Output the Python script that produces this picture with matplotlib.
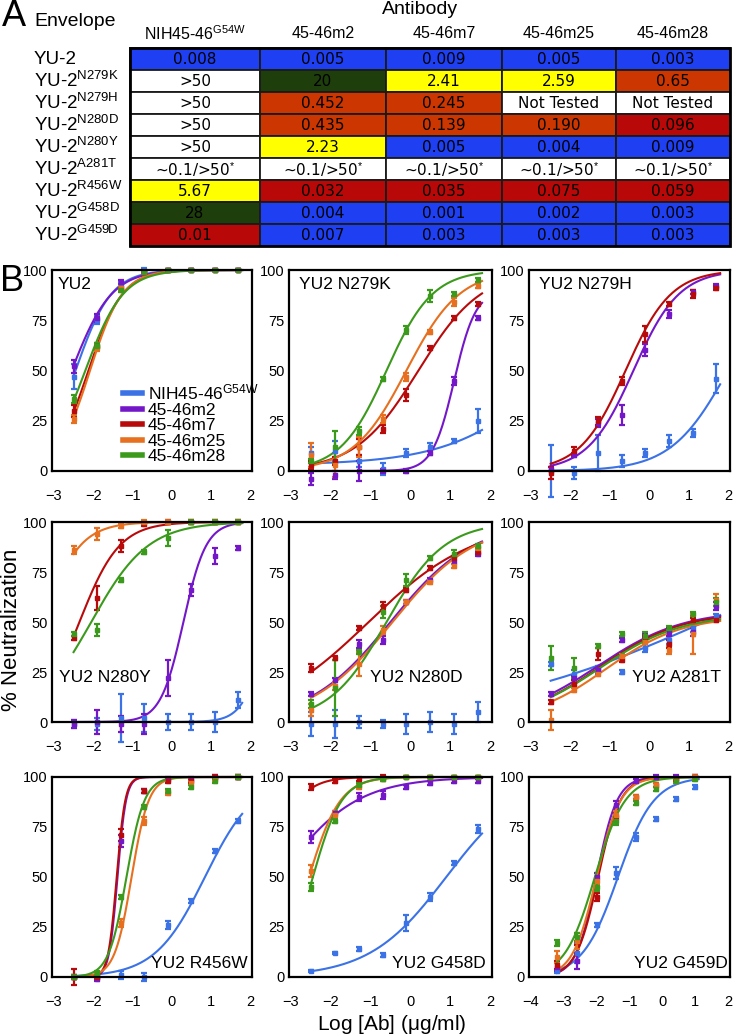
import matplotlib
matplotlib.use("Agg")
import matplotlib.pyplot as plt
from matplotlib.lines import Line2D
from matplotlib.patches import Rectangle
from matplotlib import font_manager
import numpy as np

# ---------------- data: table (panel A) ----------------
antibodies = ["NIH45-46$^{\\mathrm{G54W}}$", "45-46m2", "45-46m7", "45-46m25", "45-46m28"]
envelopes = ["YU-2", "YU-2$^{\\mathrm{N279K}}$", "YU-2$^{\\mathrm{N279H}}$",
             "YU-2$^{\\mathrm{N280D}}$", "YU-2$^{\\mathrm{N280Y}}$", "YU-2$^{\\mathrm{A281T}}$",
             "YU-2$^{\\mathrm{R456W}}$", "YU-2$^{\\mathrm{G458D}}$", "YU-2$^{\\mathrm{G459D}}$"]
star = "~0.1/>50$^{*}$"
ic50_text = [
    ["0.008", "0.005", "0.009", "0.005", "0.003"],
    [">50", "20", "2.41", "2.59", "0.65"],
    [">50", "0.452", "0.245", "Not Tested", "Not Tested"],
    [">50", "0.435", "0.139", "0.190", "0.096"],
    [">50", "2.23", "0.005", "0.004", "0.009"],
    [star, star, star, star, star],
    ["5.67", "0.032", "0.035", "0.075", "0.059"],
    ["28", "0.004", "0.001", "0.002", "0.003"],
    ["0.01", "0.007", "0.003", "0.003", "0.003"],
]
# numeric IC50 (µg/ml); None = not tested / ambiguous, 100 = >50
ic50_value = [
    [0.008, 0.005, 0.009, 0.005, 0.003],
    [100, 20, 2.41, 2.59, 0.65],
    [100, 0.452, 0.245, None, None],
    [100, 0.435, 0.139, 0.190, 0.096],
    [100, 2.23, 0.005, 0.004, 0.009],
    [None, None, None, None, None],
    [5.67, 0.032, 0.035, 0.075, 0.059],
    [28, 0.004, 0.001, 0.002, 0.003],
    [0.01, 0.007, 0.003, 0.003, 0.003],
]

# ---------------- data: neutralization curves (panel B) ----------------
legend_labels = ["NIH45-46$^{\\mathrm{G54W}}$", "45-46m2", "45-46m7", "45-46m25", "45-46m28"]
log_conc = [-2.5, -1.9, -1.3, -0.7, -0.1, 0.5, 1.1, 1.7]
log_conc_g459d = [-3.2, -2.6, -2.0, -1.4, -0.8, -0.2, 0.4, 1.0]

# rows: NIH45-46G54W, m2, m7, m25, m28 ; fit = (logIC50, hill, top, bottom)
yu2_mean = [[47, 75, 93, 100, 100, 100, 100, 100], [52, 76, 94, 99, 100, 100, 100, 100],
            [30, 62, 91, 99, 100, 100, 100, 100], [26, 61, 91, 99, 100, 100, 100, 100],
            [36, 62, 90, 99, 100, 100, 100, 100]]
yu2_err = [[6, 2, 1, 1, 0.5, 0.5, 0.5, 0.5], [3, 2, 1, 1, 0.5, 0.5, 0.5, 0.5],
           [3, 1.5, 1, 1, 0.5, 0.5, 0.5, 0.5], [2, 1.5, 1, 1, 0.5, 0.5, 0.5, 0.5],
           [2, 1.5, 1, 1, 0.5, 0.5, 0.5, 0.5]]
yu2_fit = [(-2.45, 0.95, 100, 0), (-2.55, 0.85, 100, 0), (-2.12, 1.0, 100, 0),
           (-2.08, 1.05, 100, 0), (-2.2, 0.9, 100, 0)]

n279k_mean = [[9, 10, 5, 1, 9, 12, 15, 25], [-4, -2, 0, 0, 0, 9, 45, 76],
              [3, 5, 12, 21, 38, 61, 76, 83], [8, 3, 12, 26, 47, 69, 84, 92],
              [5, 12, 20, 46, 70, 87, 88, 95]]
n279k_err = [[3, 5, 3, 3, 2, 2, 1, 6], [3, 2, 5, 1, 1, 1, 2, 1],
             [2, 2, 4, 2, 3, 1, 1, 1], [6, 6, 5, 2, 2, 1, 2, 1],
             [1, 8, 2, 1, 2, 3, 1, 1]]
n279k_fit = [(3.8, 0.33, 100, 3), (1.1, 1.6, 90, 0), (0.2, 0.55, 100, 0),
             (-0.1, 0.65, 100, 0), (-0.6, 0.75, 100, 0)]

n279h_mean = [[0, -1, 9, 5, 9, 15, 19, 46], [1, 8, 24, 28, 60, 78, 89, 92],
              [-1, 10, 25, 45, 68, 83, 88, 91], None, None]
n279h_err = [[13, 3, 9, 3, 2, 3, 2, 7], [1, 1, 2, 5, 3, 2, 1, 1],
             [3, 2, 2, 2, 4, 1, 2, 1], None, None]
n279h_fit = [(2.0, 0.6, 100, 0), (-0.4, 0.75, 100, 0), (-0.6, 0.75, 100, 0), None, None]

n280y_mean = [[-1, -1, 2, 2, 0, 0, 0, 11], [-1, 0, -1, -1, 22, 66, 83, 87],
              [42, 62, 88, 99, 100, 100, 100, 100], [86, 94, 98, 100, 100, 100, 100, 100],
              [44, 46, 71, 85, 92, 100, 100, 100]]
n280y_err = [[2, 3, 12, 7, 4, 4, 5, 4], [2, 6, 4, 5, 9, 3, 4, 1],
             [1, 6, 3, 1, 1, 1, 1, 1], [2, 3, 1, 1, 1, 1, 1, 1],
             [1, 3, 1, 1, 4, 1, 1, 1]]
n280y_fit = [(2.45, 1.5, 100, 0), (0.3, 1.5, 100, 0), (-2.35, 0.85, 100, 0),
             (-3.3, 0.9, 100, 0), (-2.05, 0.6, 100, 0)]

n280d_mean = [[-1, -1, 0, -1, -1, 0, -1, 5], [14, 21, 39, 41, 60, 71, 80, 84],
              [27, 32, 47, 58, 66, 77, 82, 85], [6, 18, 29, 46, 60, 70, 78, 87],
              [9, 17, 35, 55, 71, 82, 84, 88]]
n280d_err = [[6, 7, 3, 2, 5, 5, 5, 5], [1, 1, 2, 2, 1, 1, 1, 1],
             [2, 1, 1, 2, 1, 1, 1, 1], [3, 2, 6, 2, 1, 1, 1, 1],
             [2, 14, 1, 3, 3, 1, 2, 1]]
n280d_fit = [None, (-0.5, 0.42, 100, 0), (-1.05, 0.33, 100, 0),
             (-0.45, 0.42, 100, 0), (-0.6, 0.6, 100, 0)]

a281t_mean = [[29, 24, 26, 25, 37, 41, 47, 53], [14, 22, 26, 41, 43, 45, 45, 58],
              [10, 19, 34, 31, 42, 39, 51, 51], [1, 16, 24, 33, 40, 36, 44, 61],
              [32, 27, 38, 44, 43, 47, 54, 60]]
a281t_err = [[1, 2, 2, 1, 2, 2, 2, 1], [1, 1, 1, 1, 1, 2, 2, 2],
             [1, 2, 3, 1, 1, 2, 1, 1], [5, 1, 1, 1, 1, 2, 10, 3],
             [6, 5, 1, 1, 2, 1, 1, 2]]
a281t_fit = [(1.4, 0.15, 100, 0), (-1.3, 0.4, 56, 0), (-1.25, 0.42, 55, 0),
             (-1.1, 0.45, 53, 0), (-1.25, 0.42, 54, 0)]

r456w_mean = [[0, 0, 1, 0, 26, 38, 63, 78], [0, -1, 68, 93, 99, 99, 100, 100],
              [0, 0, 71, 93, 98, 98, 100, 100], [0, 1, 27, 78, 92, 97, 99, 100],
              [0, 2, 40, 85, 93, 95, 98, 100]]
r456w_err = [[1, 1, 2, 2, 2, 1, 1, 1], [1, 1, 3, 1, 1, 1, 1, 1],
             [4, 1, 3, 1, 1, 1, 1, 1], [1, 1, 2, 2, 1, 1, 1, 1],
             [1, 1, 1, 1, 1, 1, 1, 1]]
r456w_fit = [(0.85, 0.68, 100, 0), (-1.38, 4.0, 100, 0), (-1.4, 4.0, 100, 0),
             (-1.02, 2.0, 100, 0), (-1.15, 1.9, 100, 0)]

g458d_mean = [[3, 12, 14, 11, 27, 40, 57, 74], [70, 82, 90, 91, 95, 97, 98, 98],
              [95, 98, 99, 100, 100, 100, 100, 100], [53, 81, 95, 99, 100, 100, 100, 100],
              [45, 78, 96, 99, 100, 100, 100, 100]]
g458d_err = [[0.5, 0.5, 1, 1, 4, 2, 1, 2], [3, 1, 2, 2, 1, 1, 1, 1],
             [1.5, 1, 1, 1, 0.5, 0.5, 0.5, 0.5], [3, 2, 1, 1, 0.5, 0.5, 0.5, 0.5],
             [2, 1, 1, 1, 0.5, 0.5, 0.5, 0.5]]
g458d_fit = [(0.9, 0.45, 100, 0), (-3.3, 0.45, 100, 0), (-3.6, 1.1, 100, 0),
             (-2.55, 1.1, 100, 0), (-2.45, 1.2, 100, 0)]

g459d_mean = [[3, 12, 26, 52, 70, 79, 89, 95], [5, 8, 50, 86, 98, 100, 100, 100],
              [6, 18, 40, 80, 90, 96, 99, 100], [10, 18, 48, 81, 90, 96, 98, 100],
              [17, 20, 45, 78, 87, 94, 98, 99]]
g459d_err = [[1, 5, 1, 3, 2, 1, 1, 1], [2, 4, 2, 2, 1, 1, 1, 1],
             [2, 2, 2, 2, 1, 1, 1, 1], [3, 4, 2, 2, 1, 1, 1, 1],
             [1.5, 2, 2, 2, 1, 1, 1, 1]]
g459d_fit = [(-1.35, 0.8, 100, 0), (-2.0, 1.4, 100, 0), (-1.95, 1.3, 100, 0),
             (-2.0, 1.2, 100, 0), (-2.05, 0.95, 100, 0)]

# ---------------- styling ----------------
names = {f.name for f in font_manager.fontManager.ttflist}
narrow = "Liberation Sans Narrow" if "Liberation Sans Narrow" in names else "Liberation Sans"
plt.rcParams["font.family"] = [narrow, "DejaVu Sans"]
plt.rcParams["mathtext.fontset"] = "custom"
plt.rcParams["mathtext.rm"] = narrow
plt.rcParams["mathtext.it"] = narrow

line_colors = ["#3b72e6", "#7417c9", "#b80a0a", "#e6701f", "#3b9a1c"]


def cell_color(v):
    if v is None or v > 50:
        return "white"
    if v >= 10:
        return "#1e3f0c"
    if v >= 1:
        return "#ffff00"
    if v >= 0.1:
        return "#cc3600"
    if v >= 0.01:
        return "#b80808"
    return "#1f3ff2"


def fourpl(x, e, h, top, bottom):
    return bottom + (top - bottom) / (1 + 10 ** ((e - x) * h))


W, H = 733, 1036
fig = plt.figure(figsize=(W / 100, H / 100), dpi=100)


def px_axes(x0, y0, x1, y1):
    return fig.add_axes([x0 / W, 1 - y1 / H, (x1 - x0) / W, (y1 - y0) / H])


# ---------------- panel A: table ----------------
fig.text(2 / W, 1 - 17 / H, "A", fontsize=26, family="Liberation Sans", va="center", ha="left")
fig.text(34 / W, 1 - 22 / H, "Envelope", fontsize=14, va="center", ha="left")
fig.text(420 / W, 1 - 10 / H, "Antibody", fontsize=14, va="center", ha="center")

col_edges = [130, 260, 386, 502, 616, 730]
row_top, row_h = 48, 22
tab = px_axes(0, 0, W, H)
tab.set_xlim(0, W)
tab.set_ylim(H, 0)
tab.axis("off")
for j, ab in enumerate(antibodies):
    tab.text((col_edges[j] + col_edges[j + 1]) / 2, 34, ab, fontsize=11.5, ha="center", va="center")
for i, env in enumerate(envelopes):
    yc = row_top + row_h * (i + 0.5)
    tab.text(34, yc, env, fontsize=13.5, ha="left", va="center")
    for j in range(len(antibodies)):
        tab.add_patch(Rectangle((col_edges[j], row_top + row_h * i), col_edges[j + 1] - col_edges[j], row_h,
                                facecolor=cell_color(ic50_value[i][j]), edgecolor="#1a1a1a", lw=1.3))
        tab.text((col_edges[j] + col_edges[j + 1]) / 2, yc + 1, ic50_text[i][j], fontsize=11,
                 family="DejaVu Sans", ha="center", va="center", color="black")
tab.add_patch(Rectangle((col_edges[0], row_top), col_edges[-1] - col_edges[0], row_h * 9,
                        fill=False, edgecolor="black", lw=2))

# ---------------- panel B: curves ----------------
fig.text(0, 1 - 281 / H, "B", fontsize=26, family="Liberation Sans", va="center", ha="left")

cols = [(52, 252), (289, 492), (529, 730)]
rows = [(270, 471), (522, 722), (777, 977)]
panels = [
    ("YU2", log_conc, yu2_mean, yu2_err, yu2_fit),
    ("YU2 N279K", log_conc, n279k_mean, n279k_err, n279k_fit),
    ("YU2 N279H", log_conc, n279h_mean, n279h_err, n279h_fit),
    ("YU2 N280Y", log_conc, n280y_mean, n280y_err, n280y_fit),
    ("YU2 N280D", log_conc, n280d_mean, n280d_err, n280d_fit),
    ("YU2 A281T", log_conc, a281t_mean, a281t_err, a281t_fit),
    ("YU2 R456W", log_conc, r456w_mean, r456w_err, r456w_fit),
    ("YU2 G458D", log_conc, g458d_mean, g458d_err, g458d_fit),
    ("YU2 G459D", log_conc_g459d, g459d_mean, g459d_err, g459d_fit),
]
title_pos = [(0.03, 0.93, "left"), (0.05, 0.93, "left"), (0.05, 0.93, "left"),
             (0.035, 0.22, "left"), (0.40, 0.22, "left"), (0.51, 0.22, "left"),
             (0.98, 0.07, "right"), (0.97, 0.07, "right"), (0.99, 0.07, "right")]

for k, (title, xs, means, errs, fits) in enumerate(panels):
    r, c = divmod(k, 3)
    ax = px_axes(cols[c][0], rows[r][0], cols[c][1], rows[r][1])
    xs = np.array(xs)
    for a in range(5):
        if fits[a] is not None:
            xx = np.linspace(xs[0], xs[-1] + 0.1, 200)
            ax.plot(xx, fourpl(xx, *fits[a]), color=line_colors[a], lw=1.5, clip_on=False)
        if means[a] is not None:
            ax.errorbar(xs, means[a], yerr=errs[a], fmt="s", ms=3.2, color=line_colors[a],
                        ecolor=line_colors[a], elinewidth=1.6, capsize=2.5, capthick=1.6,
                        clip_on=False)
    if k == 8:
        ax.set_xlim(-4.05, 2.05)
        ax.set_xticks([-4, -3, -2, -1, 0, 1, 2])
    else:
        ax.set_xlim(-3.05, 2.05)
        ax.set_xticks([-3, -2, -1, 0, 1, 2])
    ax.set_ylim(0, 100)
    ax.set_yticks([0, 25, 50, 75, 100])
    ax.tick_params(length=0, labelsize=10.5)
    ax.tick_params(axis="x", pad=13)
    ax.tick_params(axis="y", pad=3)
    for s in ax.spines.values():
        s.set_linewidth(1.6)
    tx, ty, ha = title_pos[k]
    ax.text(tx, ty, title, transform=ax.transAxes, fontsize=12.5, ha=ha, va="center")
    if k == 0:
        handles = [Line2D([], [], color=col, lw=4) for col in line_colors]
        ax.legend(handles, legend_labels, loc="lower left", bbox_to_anchor=(0.31, -0.01),
                  frameon=False, fontsize=12.5, handlelength=1.1, handletextpad=0.35,
                  labelspacing=0.02, borderpad=0)

fig.text(12 / W, 1 - 630 / H, "% Neutralization", fontsize=16, rotation=90, ha="center", va="center")
fig.text(392 / W, 1 - 1025 / H, "Log [Ab] ($\\mu$g/ml)", fontsize=15, ha="center", va="center")

fig.savefig("out.png", dpi=100)
